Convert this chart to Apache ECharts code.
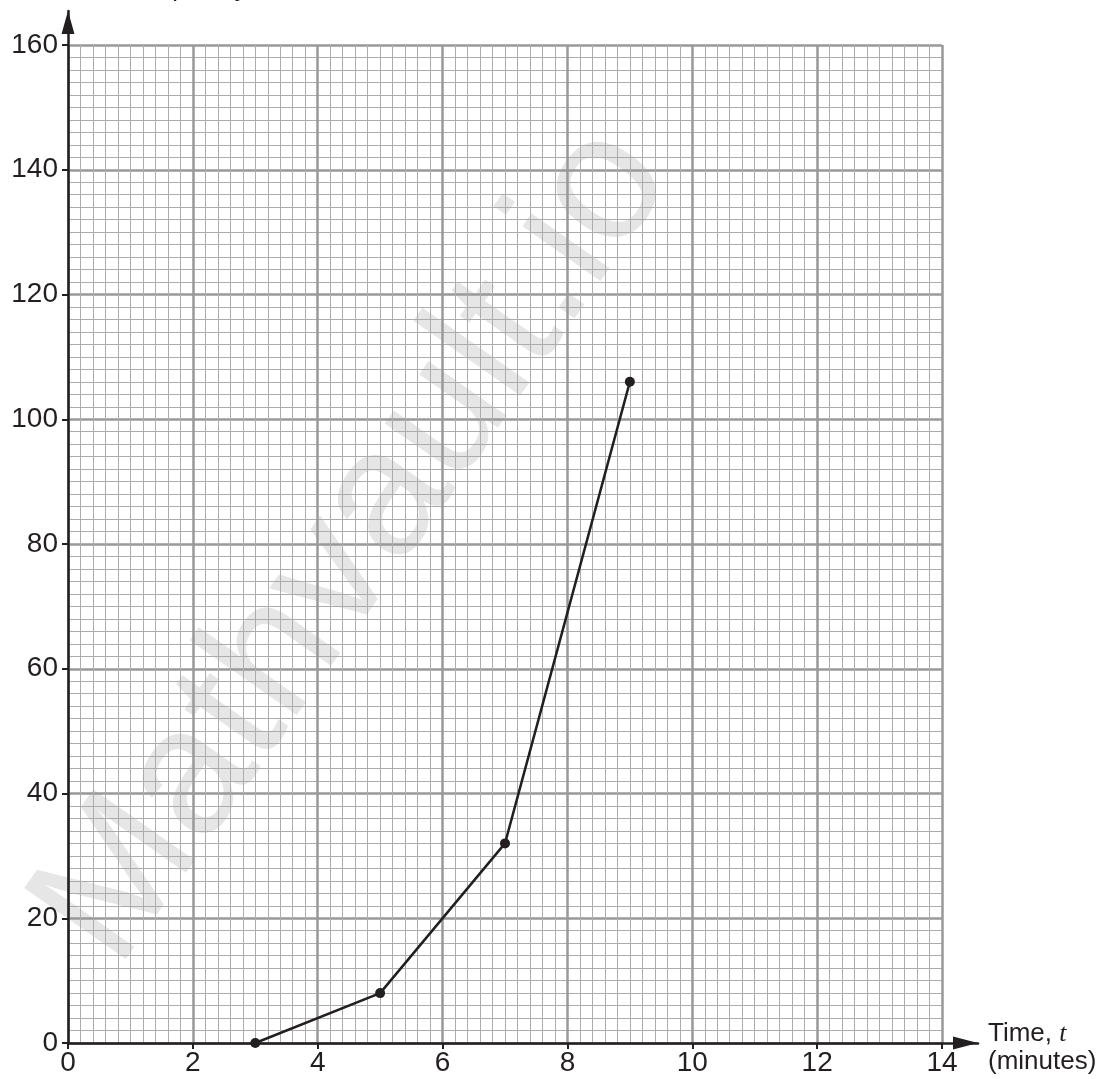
<!DOCTYPE html>
<html><head><meta charset="utf-8">
<script src="https://cdn.jsdelivr.net/npm/echarts@6/dist/echarts.min.js"></script>
<style>html,body{margin:0;padding:0;background:#fff}#c{width:1116px;height:1079px}</style>
</head><body><div id="c"></div>
<script>
// Data
const times = [3, 5, 7, 9];            // Time, t (minutes)
const cumFreq = [0, 8, 32, 106];       // cumulative frequency
const xRange = [0, 14];
const yRange = [0, 160];
const xStep = 2;
const yStep = 20;
const minorSplits = 10;
const yAxisTitle = 'Cumulative frequency';
const xAxisTitle = ['Time, ', 't', '(minutes)'];
const watermark = 'Mathvault.io';

const ink = '#231f20';
const font = 'Liberation Sans, Arial, Helvetica, sans-serif';
const points = times.map((t, i) => [t, cumFreq[i]]);

const chart = echarts.init(document.getElementById('c'), null, {renderer: 'canvas'});
chart.setOption({
  animation: false,
  backgroundColor: '#fff',
  grid: [
    {left: 68, right: 174, top: 45, bottom: 36, outerBoundsMode: 'none'},
    {left: 68, right: 138, top: 11, bottom: 36, outerBoundsMode: 'none'}
  ],
  xAxis: [
    { gridIndex: 0, type: 'value', min: xRange[0], max: xRange[1], interval: xStep,
      axisLine: {show: false},
      axisTick: {show: true, length: 6, lineStyle: {color: ink, width: 2}},
      axisLabel: {fontSize: 28, color: ink, fontFamily: font, margin: 6},
      splitLine: {show: false},
      minorTick: {show: false, splitNumber: minorSplits},
      minorSplitLine: {show: true, lineStyle: {color: '#acacac', width: 1}},
      name: '{a|' + xAxisTitle[0] + '}{b|' + xAxisTitle[1] + '}\n{a|' + xAxisTitle[2] + '}',
      nameLocation: 'end', nameGap: 46,
      nameTextStyle: {align: 'left', verticalAlign: 'middle', padding: [10, 0, 0, 0],
        rich: {
          a: {fontSize: 26, fontFamily: font, color: ink, lineHeight: 28},
          b: {fontSize: 26, fontFamily: 'Liberation Serif, Times New Roman, serif', fontStyle: 'italic', color: ink, lineHeight: 28}
        }}
    },
    { gridIndex: 1, type: 'value', min: 0, max: 1,
      axisLine: {show: true, symbol: ['none', 'triangle'], symbolSize: [13, 25], symbolOffset: [0, -12.5],
        lineStyle: {color: ink, width: 2.5}},
      axisTick: {show: false}, axisLabel: {show: false}, splitLine: {show: false}
    },
    { gridIndex: 0, type: 'value', min: xRange[0], max: xRange[1], interval: xStep,
      axisLine: {show: false}, axisTick: {show: false}, axisLabel: {show: false},
      splitLine: {show: true, lineStyle: {color: '#999999', width: 2.5}}
    }
  ],
  yAxis: [
    { gridIndex: 0, type: 'value', min: yRange[0], max: yRange[1], interval: yStep,
      axisLine: {show: false},
      axisTick: {show: true, length: 6, lineStyle: {color: ink, width: 2}},
      axisLabel: {fontSize: 28, color: ink, fontFamily: font, margin: 10},
      splitLine: {show: false},
      minorTick: {show: false, splitNumber: minorSplits},
      minorSplitLine: {show: true, lineStyle: {color: '#acacac', width: 1}}
    },
    { gridIndex: 1, type: 'value', min: 0, max: 1,
      axisLine: {show: true, symbol: ['none', 'triangle'], symbolSize: [13, 23], symbolOffset: [0, -11.5],
        lineStyle: {color: ink, width: 2.5}},
      axisTick: {show: false}, axisLabel: {show: false}, splitLine: {show: false}
    },
    { gridIndex: 0, type: 'value', min: yRange[0], max: yRange[1], interval: yStep,
      axisLine: {show: false}, axisTick: {show: false}, axisLabel: {show: false},
      splitLine: {show: true, lineStyle: {color: '#999999', width: 2.5}}
    }
  ],
  series: [{
    type: 'line', xAxisIndex: 0, yAxisIndex: 0, data: points,
    symbol: 'circle', symbolSize: 10, z: 10,
    itemStyle: {color: ink}, lineStyle: {color: ink, width: 2.5}
  }],
  graphic: [
    {type: 'text', left: -4, top: -24, z: 5,
      style: {text: yAxisTitle, fontSize: 26, fontFamily: font, fill: ink}},
    {type: 'text', x: 355, y: 545, rotation: 0.96, z: -10, silent: true,
      style: {text: watermark, fontSize: 180, fontFamily: font, fill: '#e6e6e6',
        align: 'center', verticalAlign: 'middle'}}
  ]
});
</script></body></html>
